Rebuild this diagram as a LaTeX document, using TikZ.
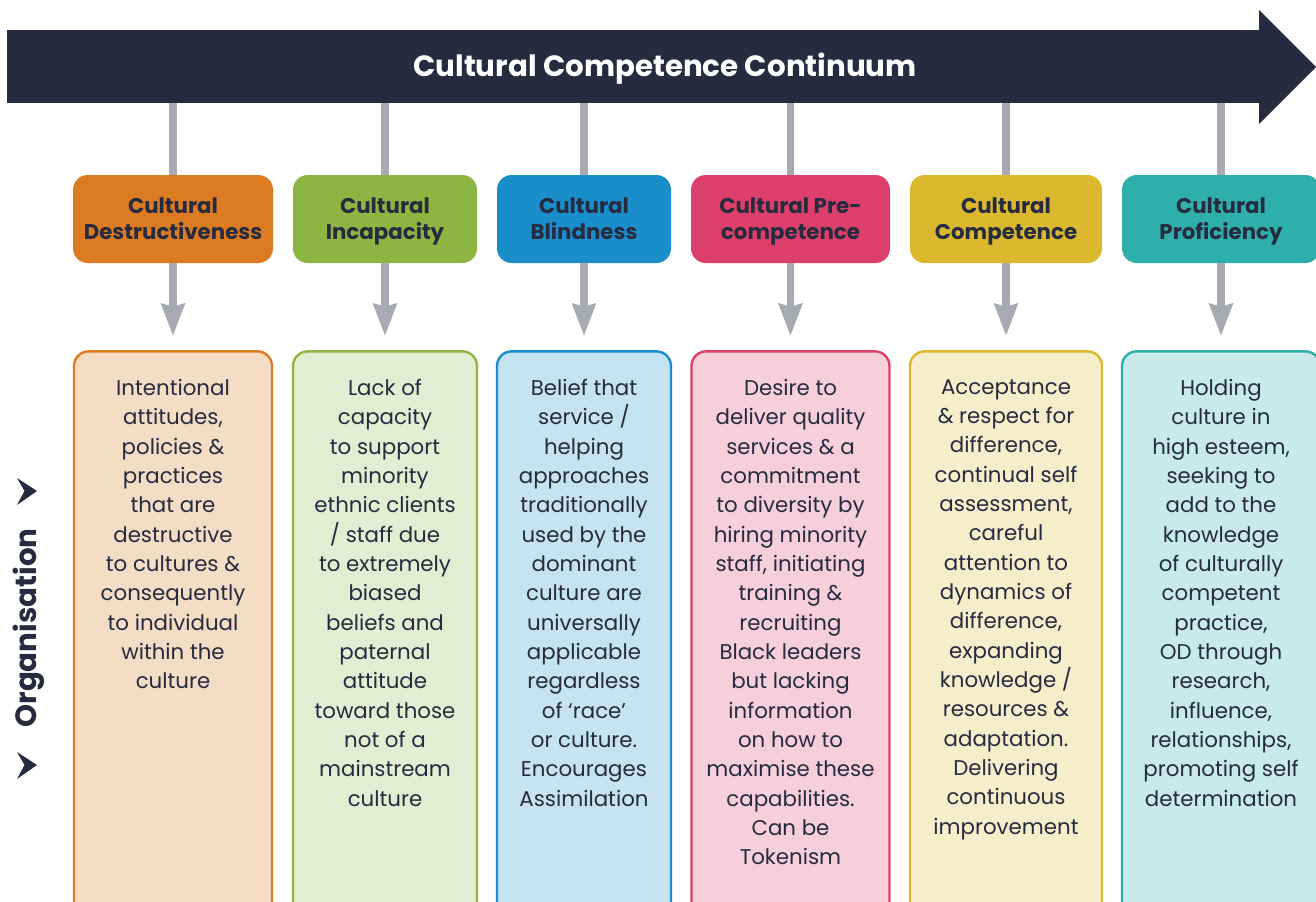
\documentclass[tikz,border=0pt]{standalone}
\usepackage{fontspec}
\setmainfont{Poppins}
\usetikzlibrary{positioning,arrows.meta}

\definecolor{navy}{HTML}{262B3F}
\definecolor{linkgray}{HTML}{A8AAB1}
\definecolor{orangedk}{HTML}{DD7B22}
\definecolor{orangelt}{HTML}{F5DCC4}
\definecolor{greendk}{HTML}{8DB542}
\definecolor{greenlt}{HTML}{E3EDD2}
\definecolor{bluedk}{HTML}{1A8ECB}
\definecolor{bluelt}{HTML}{C5E3F1}
\definecolor{reddk}{HTML}{DC3F6A}
\definecolor{redlt}{HTML}{F7CFDA}
\definecolor{yellowdk}{HTML}{DBB82E}
\definecolor{yellowlt}{HTML}{F6EDCB}
\definecolor{tealdk}{HTML}{2EAFAC}
\definecolor{teallt}{HTML}{C8EAE9}

\begin{document}
\begin{tikzpicture}[x=0.75pt,y=-0.75pt,
    every node/.style={text=navy},
    headbox/.style={fill=#1, rounded corners=11pt, minimum height=66pt, inner sep=0pt},
    headtext/.style={font=\fontsize{16}{19.5}\selectfont\bfseries, align=center, inner sep=0pt,
        yshift=-2.25pt, execute at begin node=\strut, execute at end node=\strut},
    bodybox/.style 2 args={draw=#1, fill=#2, line width=1.8pt, rounded corners=11pt,
        minimum height=427pt, inner sep=0pt},
    bodytext/.style={font=\fontsize{16}{22}\selectfont, align=center, anchor=north, inner sep=0pt},
    link/.style={draw=linkgray, line width=5.5pt},
    pointer/.style={link, -{Stealth[length=24pt,width=17pt,inset=2pt]}, shorten >=10.5pt},
    chevron/.style={fill=navy},
]
\useasboundingbox (0,0) rectangle (1316,901);
\clip (0,0) rectangle (1316,901);

% the continuum band
\node (band) [fill=navy, minimum width=941.5pt, minimum height=54.75pt, inner sep=0pt] at (634.5,66.5) {};
\fill[navy] (1259,10) -- (1316,67) -- (1259,124) -- cycle;
\node (title) [text=white, font=\fontsize{22}{26}\selectfont\bfseries] at (665,69) {Cultural Competence Continuum};

% side label
\node (org) [rotate=90, font=\fontsize{22}{26}\selectfont\bfseries] at (29,628) {Organisation};
\foreach \y in {491,765}
    \fill[chevron] (17,\y-13) -- (37,\y) -- (17,\y+14) -- (24.5,\y) -- cycle;

% stage headings
\node (h1) [headbox=orangedk, minimum width=150pt]   at (173,219)    {};
\node (h2) [headbox=greendk, minimum width=138pt]    at (385,219)    {};
\node (h3) [headbox=bluedk, minimum width=130.5pt]   at (584,219)    {};
\node (h4) [headbox=reddk, minimum width=149.25pt]   at (790.5,219)  {};
\node (h5) [headbox=yellowdk, minimum width=144pt]   at (1006,219)   {};
\node (h6) [headbox=tealdk, minimum width=148.5pt]   at (1221,219)   {};

\node (n1) [headtext] at (h1) {Cultural\\Destructiveness};
\node (n2) [headtext] at (h2) {Cultural\\Incapacity};
\node (n3) [headtext] at (h3) {Cultural\\Blindness};
\node (n4) [headtext] at (h4) {Cultural Pre-\\competence};
\node (n5) [headtext] at (h5) {Cultural\\Competence};
\node (n6) [headtext] at (h6) {Cultural\\Proficiency};

% description boxes
\node (b1) [bodybox={orangedk}{orangelt}, minimum width=148.5pt] at (173,636)   {};
\node (b2) [bodybox={greendk}{greenlt}, minimum width=138pt]     at (385,636)   {};
\node (b3) [bodybox={bluedk}{bluelt}, minimum width=130.5pt]     at (584,636)   {};
\node (b4) [bodybox={reddk}{redlt}, minimum width=148.5pt]       at (790.5,636) {};
\node (b5) [bodybox={yellowdk}{yellowlt}, minimum width=144pt]   at (1006,636)  {};
\node (b6) [bodybox={tealdk}{teallt}, minimum width=148.5pt]     at (1221,636)  {};

\node (t1) [bodytext] at (173,379) {Intentional\\attitudes,\\policies \&\\practices\\that are\\destructive\\to cultures \&\\consequently\\to individual\\within the\\culture};
\node (t2) [bodytext] at (385,379) {Lack of\\capacity\\to support\\minority\\ethnic clients\\/ staff due\\to extremely\\biased\\beliefs and\\paternal\\attitude\\toward those\\not of a\\mainstream\\culture};
\node (t3) [bodytext] at (584,379) {Belief that\\service /\\helping\\approaches\\traditionally\\used by the\\dominant\\culture are\\universally\\applicable\\regardless\\of ‘race’\\or culture.\\Encourages\\Assimilation};
\node (t4) [bodytext] at (790.5,379) {Desire to\\deliver quality\\services \& a\\commitment\\to diversity by\\hiring minority\\staff, initiating\\training \&\\recruiting\\Black leaders\\but lacking\\information\\on how to\\maximise these\\capabilities.\\Can be\\Tokenism};
\node (t5) [bodytext] at (1006,379) {Acceptance\\\& respect for\\difference,\\continual self\\assessment,\\careful\\attention to\\dynamics of\\difference,\\expanding\\knowledge /\\resources \&\\adaptation.\\Delivering\\continuous\\improvement};
\node (t6) [bodytext] at (1221,379) {Holding\\culture in\\high esteem,\\seeking to\\add to the\\knowledge\\of culturally\\competent\\practice,\\OD through\\research,\\influence,\\relationships,\\promoting self\\determination};

% links from the band and pointers to the descriptions
\foreach \i in {1,...,6} {
    \draw[link] (h\i.north) -- (h\i.north |- band.south);
    \draw[pointer] (h\i.south) -- (b\i.north);
}
\end{tikzpicture}
\end{document}
